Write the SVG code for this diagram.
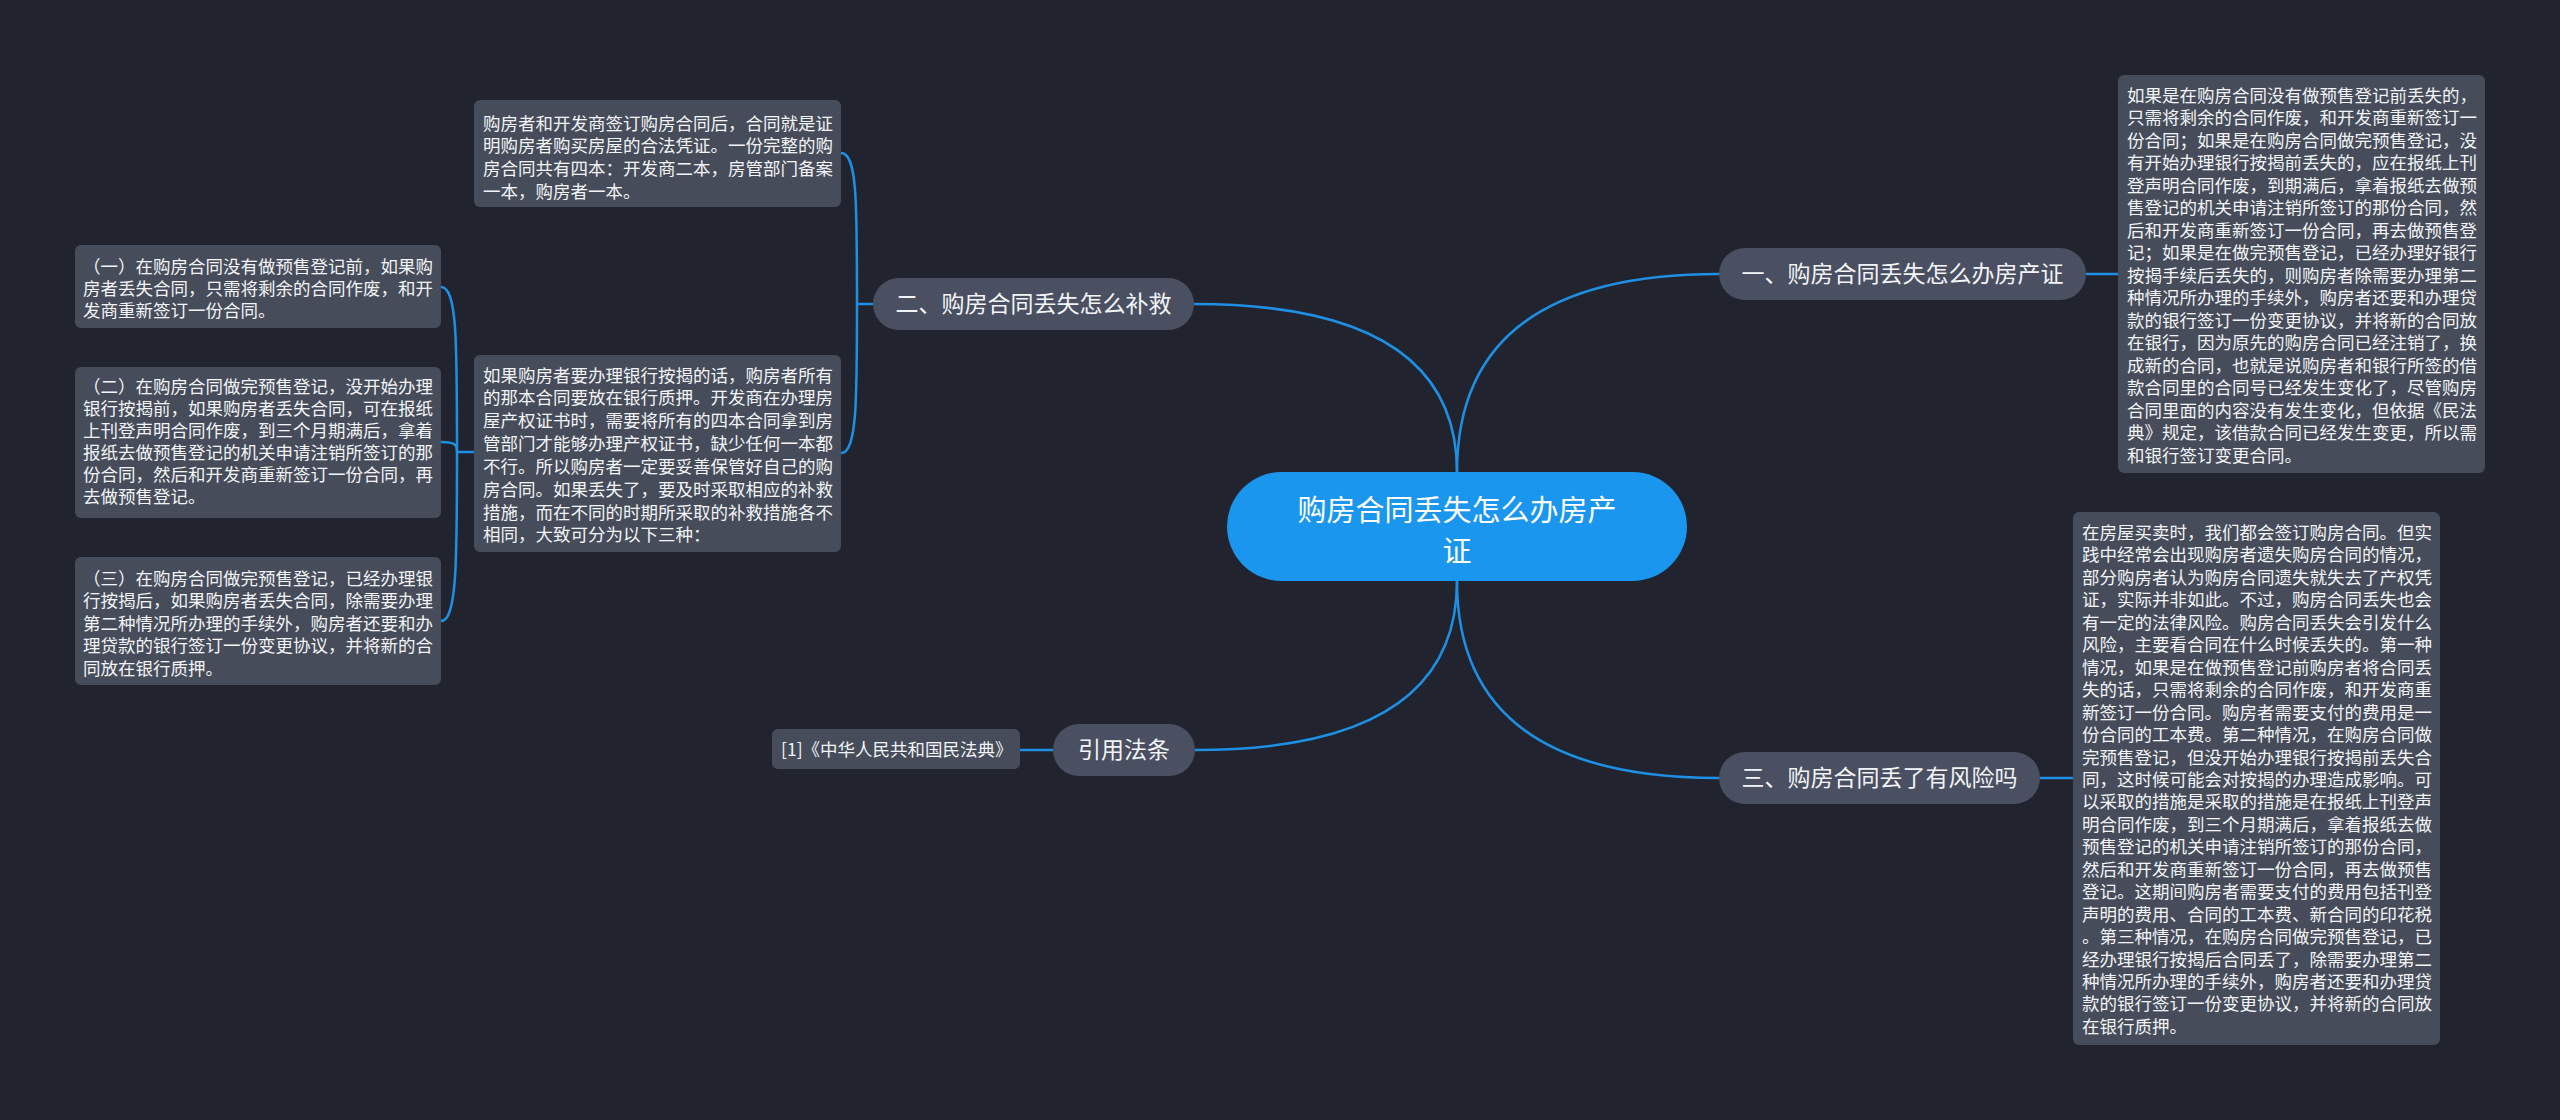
<svg xmlns="http://www.w3.org/2000/svg" width="2560" height="1120" viewBox="0 0 2560 1120">
<style>
.bg{fill:#21242f}
.link{fill:none;stroke:#1e8fe3;stroke-width:2.5}
.root{fill:#1a96ee}
.branch{fill:#4a5061}
.box{fill:#464c5a}
.t{font-family:"Noto Sans CJK SC","Noto Sans",sans-serif;fill:#f2f4f7}
.rt{font-size:29px;text-anchor:middle;fill:#ffffff}
.bt{font-size:23px;text-anchor:middle}
.xt{font-size:17.5px}
</style>
<rect class="bg" x="0" y="0" width="2560" height="1120"/>
<g id="connectors">
<path class="link" d="M1457 472 Q1457 274 1719 274"/>
<path class="link" d="M1457 472 Q1457 304 1194 304"/>
<path class="link" d="M1457 581 Q1457 778 1719 778"/>
<path class="link" d="M1457 581 Q1457 750 1195 750"/>
<path class="link" d="M2086 274 L2118 274"/>
<path class="link" d="M2040 778 L2073 778"/>
<path class="link" d="M1053 750 L1020 750"/>
<path class="link" d="M873 304 L857 304"/>
<path class="link" d="M857 304 C857 200 857 153 841 153"/>
<path class="link" d="M857 304 C857 400 857 453 841 453"/>
<path class="link" d="M474 452 L457 452"/>
<path class="link" d="M457 452 C457 340 457 287 441 287"/>
<path class="link" d="M457 452 C457 446 457 442 441 442"/>
<path class="link" d="M457 452 C457 560 457 621 441 621"/>
</g>
<g id="root">
<rect class="root" x="1227" y="472" width="460" height="109" rx="54.5"/>
<text class="t rt" x="1457" y="521"><tspan x="1457">购房合同丢失怎么办房产</tspan><tspan x="1457" dy="41">证</tspan></text>
</g>
<g id="b1">
<rect class="branch" x="1719" y="248" width="367" height="52" rx="26"/>
<text class="t bt" x="1902.5" y="282">一、购房合同丢失怎么办房产证</text>
</g>
<g id="b2">
<rect class="branch" x="873" y="278" width="321" height="52" rx="26"/>
<text class="t bt" x="1033.5" y="312">二、购房合同丢失怎么补救</text>
</g>
<g id="b3">
<rect class="branch" x="1719" y="752" width="321" height="52" rx="26"/>
<text class="t bt" x="1879.5" y="786">三、购房合同丢了有风险吗</text>
</g>
<g id="b4">
<rect class="branch" x="1053" y="724" width="142" height="52" rx="26"/>
<text class="t bt" x="1124" y="758">引用法条</text>
</g>
<g id="ref1">
<rect class="box" x="772" y="729" width="248" height="40" rx="6"/>
<text class="t xt" x="781" y="756">[1]《中华人民共和国民法典》</text>
</g>
<g id="boxA">
<rect class="box" x="2118" y="75" width="367" height="398" rx="6"/>
<text class="t xt" x="2127" y="101.5">
<tspan x="2127">如果是在购房合同没有做预售登记前丢失的，</tspan>
<tspan x="2127" dy="22.5">只需将剩余的合同作废，和开发商重新签订一</tspan>
<tspan x="2127" dy="22.5">份合同；如果是在购房合同做完预售登记，没</tspan>
<tspan x="2127" dy="22.5">有开始办理银行按揭前丢失的，应在报纸上刊</tspan>
<tspan x="2127" dy="22.5">登声明合同作废，到期满后，拿着报纸去做预</tspan>
<tspan x="2127" dy="22.5">售登记的机关申请注销所签订的那份合同，然</tspan>
<tspan x="2127" dy="22.5">后和开发商重新签订一份合同，再去做预售登</tspan>
<tspan x="2127" dy="22.5">记；如果是在做完预售登记，已经办理好银行</tspan>
<tspan x="2127" dy="22.5">按揭手续后丢失的，则购房者除需要办理第二</tspan>
<tspan x="2127" dy="22.5">种情况所办理的手续外，购房者还要和办理贷</tspan>
<tspan x="2127" dy="22.5">款的银行签订一份变更协议，并将新的合同放</tspan>
<tspan x="2127" dy="22.5">在银行，因为原先的购房合同已经注销了，换</tspan>
<tspan x="2127" dy="22.5">成新的合同，也就是说购房者和银行所签的借</tspan>
<tspan x="2127" dy="22.5">款合同里的合同号已经发生变化了，尽管购房</tspan>
<tspan x="2127" dy="22.5">合同里面的内容没有发生变化，但依据《民法</tspan>
<tspan x="2127" dy="22.5">典》规定，该借款合同已经发生变更，所以需</tspan>
<tspan x="2127" dy="22.5">和银行签订变更合同。</tspan>
</text>
</g>
<g id="boxB">
<rect class="box" x="2073" y="512" width="367" height="533" rx="6"/>
<text class="t xt" x="2082" y="539">
<tspan x="2082">在房屋买卖时，我们都会签订购房合同。但实</tspan>
<tspan x="2082" dy="22.45">践中经常会出现购房者遗失购房合同的情况，</tspan>
<tspan x="2082" dy="22.45">部分购房者认为购房合同遗失就失去了产权凭</tspan>
<tspan x="2082" dy="22.45">证，实际并非如此。不过，购房合同丢失也会</tspan>
<tspan x="2082" dy="22.45">有一定的法律风险。购房合同丢失会引发什么</tspan>
<tspan x="2082" dy="22.45">风险，主要看合同在什么时候丢失的。第一种</tspan>
<tspan x="2082" dy="22.45">情况，如果是在做预售登记前购房者将合同丢</tspan>
<tspan x="2082" dy="22.45">失的话，只需将剩余的合同作废，和开发商重</tspan>
<tspan x="2082" dy="22.45">新签订一份合同。购房者需要支付的费用是一</tspan>
<tspan x="2082" dy="22.45">份合同的工本费。第二种情况，在购房合同做</tspan>
<tspan x="2082" dy="22.45">完预售登记，但没开始办理银行按揭前丢失合</tspan>
<tspan x="2082" dy="22.45">同，这时候可能会对按揭的办理造成影响。可</tspan>
<tspan x="2082" dy="22.45">以采取的措施是采取的措施是在报纸上刊登声</tspan>
<tspan x="2082" dy="22.45">明合同作废，到三个月期满后，拿着报纸去做</tspan>
<tspan x="2082" dy="22.45">预售登记的机关申请注销所签订的那份合同，</tspan>
<tspan x="2082" dy="22.45">然后和开发商重新签订一份合同，再去做预售</tspan>
<tspan x="2082" dy="22.45">登记。这期间购房者需要支付的费用包括刊登</tspan>
<tspan x="2082" dy="22.45">声明的费用、合同的工本费、新合同的印花税</tspan>
<tspan x="2082" dy="22.45">。第三种情况，在购房合同做完预售登记，已</tspan>
<tspan x="2082" dy="22.45">经办理银行按揭后合同丢了，除需要办理第二</tspan>
<tspan x="2082" dy="22.45">种情况所办理的手续外，购房者还要和办理贷</tspan>
<tspan x="2082" dy="22.45">款的银行签订一份变更协议，并将新的合同放</tspan>
<tspan x="2082" dy="22.45">在银行质押。</tspan>
</text>
</g>
<g id="boxC">
<rect class="box" x="474" y="100" width="367" height="107" rx="6"/>
<text class="t xt" x="483" y="129.5">
<tspan x="483">购房者和开发商签订购房合同后，合同就是证</tspan>
<tspan x="483" dy="22.8">明购房者购买房屋的合法凭证。一份完整的购</tspan>
<tspan x="483" dy="22.8">房合同共有四本：开发商二本，房管部门备案</tspan>
<tspan x="483" dy="22.8">一本，购房者一本。</tspan>
</text>
</g>
<g id="boxD">
<rect class="box" x="474" y="355" width="367" height="197" rx="6"/>
<text class="t xt" x="483" y="381.5">
<tspan x="483">如果购房者要办理银行按揭的话，购房者所有</tspan>
<tspan x="483" dy="22.85">的那本合同要放在银行质押。开发商在办理房</tspan>
<tspan x="483" dy="22.85">屋产权证书时，需要将所有的四本合同拿到房</tspan>
<tspan x="483" dy="22.85">管部门才能够办理产权证书，缺少任何一本都</tspan>
<tspan x="483" dy="22.85">不行。所以购房者一定要妥善保管好自己的购</tspan>
<tspan x="483" dy="22.85">房合同。如果丢失了，要及时采取相应的补救</tspan>
<tspan x="483" dy="22.85">措施，而在不同的时期所采取的补救措施各不</tspan>
<tspan x="483" dy="22.85">相同，大致可分为以下三种：</tspan>
</text>
</g>
<g id="boxE">
<rect class="box" x="75" y="245" width="366" height="83" rx="6"/>
<text class="t xt" x="83" y="273">
<tspan x="83">（一）在购房合同没有做预售登记前，如果购</tspan>
<tspan x="83" dy="22">房者丢失合同，只需将剩余的合同作废，和开</tspan>
<tspan x="83" dy="22">发商重新签订一份合同。</tspan>
</text>
</g>
<g id="boxF">
<rect class="box" x="75" y="367" width="366" height="151" rx="6"/>
<text class="t xt" x="83" y="393">
<tspan x="83">（二）在购房合同做完预售登记，没开始办理</tspan>
<tspan x="83" dy="22">银行按揭前，如果购房者丢失合同，可在报纸</tspan>
<tspan x="83" dy="22">上刊登声明合同作废，到三个月期满后，拿着</tspan>
<tspan x="83" dy="22">报纸去做预售登记的机关申请注销所签订的那</tspan>
<tspan x="83" dy="22">份合同，然后和开发商重新签订一份合同，再</tspan>
<tspan x="83" dy="22">去做预售登记。</tspan>
</text>
</g>
<g id="boxG">
<rect class="box" x="75" y="557" width="366" height="128" rx="6"/>
<text class="t xt" x="83" y="584.5">
<tspan x="83">（三）在购房合同做完预售登记，已经办理银</tspan>
<tspan x="83" dy="22.5">行按揭后，如果购房者丢失合同，除需要办理</tspan>
<tspan x="83" dy="22.5">第二种情况所办理的手续外，购房者还要和办</tspan>
<tspan x="83" dy="22.5">理贷款的银行签订一份变更协议，并将新的合</tspan>
<tspan x="83" dy="22.5">同放在银行质押。</tspan>
</text>
</g>
</svg>
